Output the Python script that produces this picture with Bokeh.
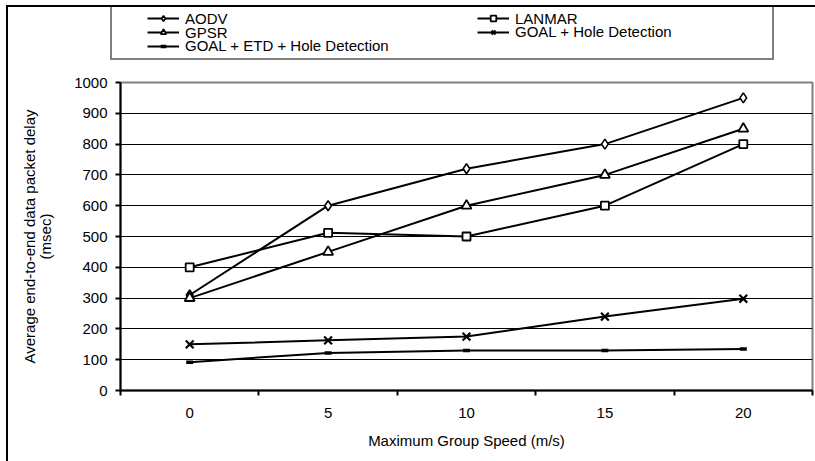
from bokeh.plotting import figure
from bokeh.layouts import column
from bokeh.models import Range1d, FixedTicker, Legend, LegendItem
from bokeh.embed import file_html
from bokeh.resources import INLINE

# ---- data ----
speeds = [0, 5, 10, 15, 20]
aodv = [310, 600, 720, 800, 950]
lanmar = [400, 512, 500, 600, 800]
gpsr = [300, 450, 600, 700, 850]
goal_hd = [150, 163, 175, 240, 298]
goal_etd_hd = [92, 122, 130, 130, 135]
y_ticks = list(range(0, 1001, 100))
x_bounds = [-2.5, 2.5, 7.5, 12.5, 17.5, 22.5]
x_label = "Maximum Group Speed (m/s)"
y_label = "Average end-to-end data packet delay\n(msec)"

FONT = "Liberation Sans"

series = [
    ("AODV", aodv, dict(marker="diamond", size=10, line_width=1.6)),
    ("LANMAR", lanmar, dict(marker="square", size=8, line_width=1.8)),
    ("GPSR", gpsr, dict(marker="triangle", size=10, line_width=1.8)),
    ("GOAL + Hole Detection", goal_hd, dict(marker="x", size=11, line_width=2.2)),
    ("GOAL + ETD + Hole Detection", goal_etd_hd, dict(marker="dash", size=7, line_width=3.5)),
]

# ---------------- main chart ----------------
p = figure(width=809, height=396, output_backend="svg", toolbar_location=None,
           x_range=Range1d(-2.5, 22.5), y_range=Range1d(0, 1000),
           min_border_left=114, min_border_right=3, min_border_top=17,
           min_border_bottom=71)
p.frame_align = False
p.border_fill_alpha = 0
p.outline_line_color = "#808080"
p.outline_line_width = 2
p.xgrid.visible = False
p.ygrid.ticker = FixedTicker(ticks=y_ticks[1:-1])
p.ygrid.grid_line_color = "black"
p.ygrid.grid_line_width = 1

ya = p.yaxis[0]
ya.ticker = FixedTicker(ticks=y_ticks)
ya.axis_line_width = 2
ya.major_tick_out = 5
ya.major_tick_in = 0
ya.major_tick_line_width = 2
ya.minor_tick_out = 0
ya.minor_tick_in = 0
ya.major_label_standoff = 8
ya.major_label_text_font = FONT
ya.major_label_text_font_size = "15px"
ya.major_label_text_color = "black"
ya.axis_label = y_label
ya.axis_label_text_font = FONT
ya.axis_label_text_font_size = "15px"
ya.axis_label_text_font_style = "normal"
ya.axis_label_text_color = "black"
ya.axis_label_text_line_height = 0.95
ya.axis_label_standoff = 17

xa = p.xaxis[0]
xa.ticker = FixedTicker(ticks=speeds, minor_ticks=x_bounds)
xa.axis_line_width = 2
xa.major_tick_out = 0
xa.major_tick_in = 0
xa.major_tick_line_color = None
xa.minor_tick_out = 5
xa.minor_tick_in = 0
xa.minor_tick_line_width = 2
xa.major_label_standoff = 12
xa.major_label_text_font = FONT
xa.major_label_text_font_size = "15px"
xa.major_label_text_color = "black"
xa.axis_label = x_label
xa.axis_label_text_font = FONT
xa.axis_label_text_font_size = "15px"
xa.axis_label_text_font_style = "normal"
xa.axis_label_text_color = "black"
xa.axis_label_standoff = 11

for name, vals, mk in series:
    p.line(speeds, vals, line_color="black", line_width=2)
    p.scatter(speeds, vals, fill_color="white", line_color="black", **mk)

# ---------------- legend strip ----------------
lf = figure(width=809, height=60, output_backend="svg", toolbar_location=None,
            x_range=Range1d(0, 1), y_range=Range1d(0, 1), min_border=0,
            min_border_left=0, min_border_right=0, min_border_top=0, min_border_bottom=0,
            x_axis_location=None, y_axis_location=None)
lf.frame_align = False
lf.border_fill_alpha = 0
lf.background_fill_alpha = 0
lf.outline_line_color = None
lf.xgrid.visible = False
lf.ygrid.visible = False

dummy = lf.line([-5, -4], [-5, -4], line_alpha=0)
box = Legend(items=[LegendItem(label=" ", renderers=[dummy])], location=(104, 5),
             padding=0, margin=0, spacing=0, glyph_width=660, glyph_height=51,
             label_standoff=0, label_width=0, label_height=0, label_text_font_size="2px",
             border_line_color="black", border_line_width=2, background_fill_alpha=0)
lf.add_layout(box, "center")

pos = {
    "AODV": (141, 38.5),
    "GPSR": (141, 24.5),
    "GOAL + ETD + Hole Detection": (141, 11),
    "LANMAR": (471, 38.5),
    "GOAL + Hole Detection": (471, 25),
}
for name, vals, mk in series:
    ln = lf.line([-5, -4], [-5, -4], line_color="black", line_width=2)
    sc = lf.scatter([-5], [-5], fill_color="white", line_color="black", **mk)
    lg = Legend(items=[LegendItem(label=name, renderers=[ln, sc])], location=pos[name],
                padding=0, margin=0, spacing=0, glyph_width=32, glyph_height=14,
                label_standoff=6, label_height=14, label_text_font=FONT,
                label_text_font_size="15px", label_text_color="black",
                label_text_line_height=0.9,
                border_line_color=None, background_fill_alpha=0)
    lf.add_layout(lg, "center")

layout = column(lf, p, margin=(5, 0, 0, 6), spacing=0,
                styles={"box-shadow": "inset 2px 2px 0 0 black"})

open("out.html", "w").write(file_html(layout, INLINE))
